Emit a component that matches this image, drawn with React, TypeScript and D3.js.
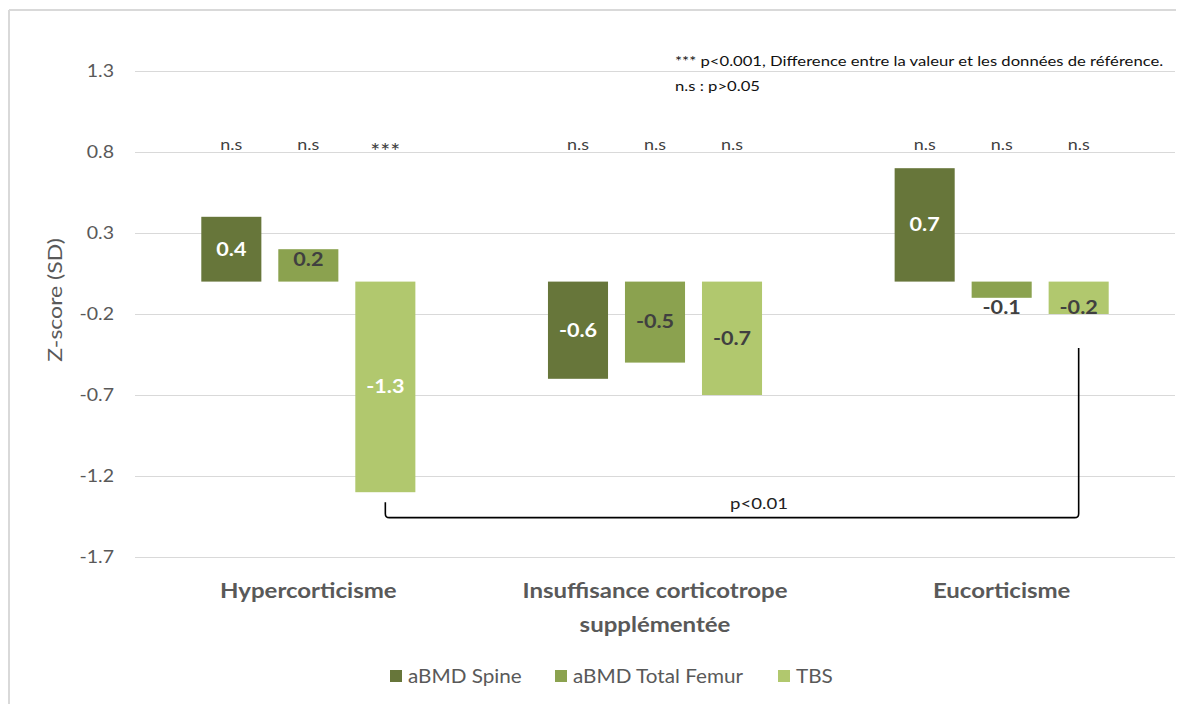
import React from "react";
import * as d3 from "d3";

const categories = ["Hypercorticisme", "Insuffisance corticotrope supplémentée", "Eucorticisme"];
const categoryLines = [["Hypercorticisme"], ["Insuffisance corticotrope", "supplémentée"], ["Eucorticisme"]];
const series = ["aBMD Spine", "aBMD Total Femur", "TBS"];
const spineValues = [0.4, -0.6, 0.7];
const femurValues = [0.2, -0.5, -0.1];
const tbsValues = [-1.3, -0.7, -0.2];
const significance = [
  ["n.s", "n.s", "***"],
  ["n.s", "n.s", "n.s"],
  ["n.s", "n.s", "n.s"],
];
const yTicks = [1.3, 0.8, 0.3, -0.2, -0.7, -1.2, -1.7];
const noteLines = [
  "*** p<0.001, Difference entre la valeur et les données de référence.",
  "n.s : p>0.05",
];
const bracketLabel = "p<0.01";

const W = 1200;
const H = 704;
const colors = ["#67763a", "#8ba24f", "#b1c86e"];
const FONT = "Lato, 'Open Sans', sans-serif";
const TEXT = "#595959";

type TProps = {
  x: number;
  y: number;
  sx?: number;
  rotate?: number;
  children: React.ReactNode;
  [k: string]: any;
};

function T({ x, y, sx = 1.18, rotate = 0, children, ...rest }: TProps) {
  return (
    <g transform={`translate(${x},${y}) rotate(${rotate}) scale(${sx},1)`}>
      <text x={0} y={0} fontFamily={FONT} {...rest}>
        {children}
      </text>
    </g>
  );
}

export default function App() {
  const values = [spineValues, femurValues, tbsValues];
  const x0 = d3.scaleBand<string>().domain(categories).range([135, 1175]).paddingInner(0).paddingOuter(0);
  const x1 = d3
    .scaleBand<string>()
    .domain(series)
    .range([0, x0.bandwidth()])
    .paddingInner(0.22)
    .paddingOuter(0.861);
  const y = d3.scaleLinear().domain([-1.7, 1.3]).range([557, 71]);
  const y0 = y(0);

  // label text colours (white on dark bars)
  const whiteLabel = (si: number, ci: number) => si === 0 || (si === 2 && ci === 0);

  const bars: React.ReactNode[] = [];
  const labels: React.ReactNode[] = [];
  const sigs: React.ReactNode[] = [];
  categories.forEach((c, ci) => {
    series.forEach((s, si) => {
      const v = values[si][ci];
      const bx = (x0(c) as number) + (x1(s) as number);
      const bw = x1.bandwidth();
      const top = Math.min(y(v), y0);
      const h = Math.abs(y(v) - y0);
      bars.push(<rect key={`b${ci}${si}`} x={bx} y={top} width={bw} height={h} fill={colors[si]} />);
      let ly = top + h / 2;
      if (h < 40) ly = v >= 0 ? y0 - 22 : y0 + 26;
      labels.push(
        <T
          key={`l${ci}${si}`}
          x={bx + bw / 2}
          y={ly}
          sx={1.2}
          dy="0.35em"
          textAnchor="middle"
          fontWeight="bold"
          fontSize={18}
          fill={whiteLabel(si, ci) ? "#ffffff" : "#404040"}
        >
          {v.toFixed(1)}
        </T>
      );
      const sig = significance[ci][si];
      sigs.push(
        <T
          key={`s${ci}${si}`}
          x={bx + bw / 2}
          y={sig === "***" ? y(0.8) + 7 : y(0.8) - 2}
          sx={1.12}
          textAnchor="middle"
          fontSize={sig === "***" ? 21 : 16}
          fill="#404040"
        >
          {sig}
        </T>
      );
    });
  });

  const leftX = (x0(categories[0]) as number) + (x1(series[2]) as number) + x1.bandwidth() / 2;
  const rightX = (x0(categories[2]) as number) + (x1(series[2]) as number) + x1.bandwidth() / 2;
  const by = y(-1.457);
  const leftTop = y(-1.362);
  const rightTop = y(-0.41);
  const r = 4;
  const bracketPath = `M${leftX},${leftTop} V${by - r} Q${leftX},${by} ${leftX + r},${by} H${rightX - r} Q${rightX},${by} ${rightX},${by - r} V${rightTop}`;

  const legendItems = [
    { x: 390, label: series[0] },
    { x: 555, label: series[1] },
    { x: 778, label: series[2] },
  ];

  return (
    <svg width={W} height={H} style={{ position: "absolute", left: 0, top: 0, background: "#fff" }}>
      <rect x={0} y={0} width={W} height={H} fill="#fff" />
      <line x1={9} x2={1176} y1={10} y2={10} stroke="#d9d9d9" strokeWidth={2} />
      <line x1={9} x2={9} y1={10} y2={H} stroke="#d9d9d9" strokeWidth={2} />
      {yTicks.map((t) => (
        <g key={t}>
          <line x1={135} x2={1175} y1={Math.round(y(t)) + 0.5} y2={Math.round(y(t)) + 0.5} stroke="#d9d9d9" strokeWidth={1} />
          <T x={114} y={y(t)} sx={1.15} dy="0.35em" textAnchor="end" fontSize={17} fill={TEXT}>
            {t.toFixed(1)}
          </T>
        </g>
      ))}
      <T x={62} y={300} rotate={-90} sx={1.15} textAnchor="middle" fontSize={20} fill={TEXT}>
        Z-score (SD)
      </T>
      {bars}
      {labels}
      {sigs}
      {categoryLines.map((lines, ci) =>
        lines.map((ln, li) => (
          <T
            key={`c${ci}${li}`}
            x={(x0(categories[ci]) as number) + x0.bandwidth() / 2}
            y={598 + li * 34}
            sx={1.2}
            textAnchor="middle"
            fontWeight="bold"
            fontSize={20}
            fill={TEXT}
          >
            {ln}
          </T>
        ))
      )}
      <path d={bracketPath} fill="none" stroke="#000" strokeWidth={1.6} />
      <T x={(leftX + rightX) / 2 + 27} y={by - 9} sx={1.2} textAnchor="middle" fontSize={15.5} fill="#222">
        {bracketLabel}
      </T>
      {noteLines.map((n, i) => (
        <T key={`n${i}`} x={675} y={66 + i * 25} sx={1.19} fontSize={14} fill="#111">
          {n}
        </T>
      ))}
      {legendItems.map((it, i) => (
        <g key={`lg${i}`}>
          <rect x={it.x} y={670} width={12} height={12} fill={colors[i]} />
          <T x={it.x + 18} y={676} sx={1.09} dy="0.35em" fontSize={19} fill={TEXT}>
            {it.label}
          </T>
        </g>
      ))}
    </svg>
  );
}
